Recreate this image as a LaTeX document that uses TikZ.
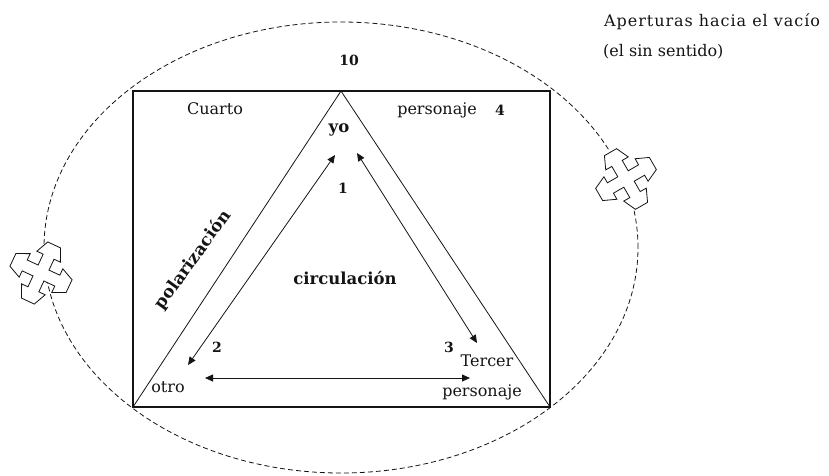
\documentclass[tikz,border=0pt]{standalone}
\usepackage{fontspec}
\setmainfont{DejaVu Serif}
\usetikzlibrary{arrows.meta, positioning, calc}
\definecolor{myink}{RGB}{20,20,20}
\tikzset{
  frame/.style={draw=myink, line width=1.4pt},
  side/.style={draw=myink, line width=0.8pt},
  link/.style={{Triangle[length=8pt,width=7pt]}-{Triangle[length=8pt,width=7pt]},
    draw=myink, line width=0.8pt},
  lbl/.style={font=\fontsize{16}{18}\selectfont, inner sep=0pt, color=myink},
  widelbl/.style={font=\fontsize{16}{18}\selectfont\addfontfeature{LetterSpace=6}, inner sep=0pt, color=myink},
  boldlbl/.style={font=\fontsize{16.5}{18}\selectfont\bfseries, inner sep=0pt, color=myink},
  num/.style={font=\fontsize{14}{16}\selectfont\bfseries, inner sep=0pt, color=myink},
  void/.style={draw=myink, dash pattern=on 5pt off 3pt, line width=0.8pt},
  opening/.style={draw=myink, fill=white, line width=0.8pt, line join=miter}
}

\begin{document}
\begin{tikzpicture}[x=1pt, y=-1pt]
  \useasboundingbox (0,0) rectangle (829,475);

  % corners
  \coordinate (tl) at (133,91);
  \coordinate (tr) at (550,91);
  \coordinate (bl) at (133,407);
  \coordinate (br) at (550,407);
  \coordinate (apex) at (341,91);

  % void
  \draw[void] (341,247.5) ellipse [x radius=297pt, y radius=225.5pt];

  \draw[frame] (tl) rectangle (br);
  \draw[side] (bl) -- (apex) -- (br);

  % openings
  \foreach \cx/\cy/\rot/\name in {41/273/-25/openL, 626/179/30/openR}{
    \begin{scope}[shift={(\cx,\cy)}, rotate=\rot]
      \draw[opening] (6,6) \foreach \a in {0,90,180,270}{
        -- ([rotate=\a]6,6) -- ([rotate=\a]18,6) -- ([rotate=\a]18,13)
        -- ([rotate=\a]31,7) -- ([rotate=\a]31,-7) -- ([rotate=\a]18,-13)
        -- ([rotate=\a]18,-6)} -- cycle;
    \end{scope}
  }

  % labels
  \node[num] (ten) at (349,60) {10};
  \node[lbl] (cuarto) at (215,109) {Cuarto};
  \node[lbl] (pers4) at (437,110) {personaje};
  \node[num] (four) at (500,110) {4};
  \node[boldlbl] (yo) at (339,130) {yo};
  \node[num] (one) at (343,188) {1};
  \node[boldlbl] (circ) at (345,278) {circulación};
  \node[boldlbl, font=\fontsize{17}{19}\selectfont\bfseries, rotate=54] (polar) at (193,260) {polarización};
  \node[num] (two) at (217,347) {2};
  \node[num] (three) at (449,347) {3};
  \node[lbl] (tercer) at (487,361) {Tercer};
  \node[lbl] (pers3) at (482,392) {personaje};
  \node[lbl] (otro) at (168,387) {otro};
  \node[widelbl, anchor=west] (apert) at (604,22) {Aperturas hacia el vacío};
  \node[lbl, anchor=west] (sinsent) at (603,52) {(el sin sentido)};

  % circulation
  \coordinate (yoL) at (335,155);
  \coordinate (yoR) at (357,153);
  \coordinate (otroT) at (188,365);
  \coordinate (tercT) at (477,343);
  \coordinate (otroR) at (205,378);
  \coordinate (tercL) at (470,378);
  \draw[link] (otroT) -- (yoL);
  \draw[link] (yoR) -- (tercT);
  \draw[link] (otroR) -- (tercL);
\end{tikzpicture}
\end{document}
